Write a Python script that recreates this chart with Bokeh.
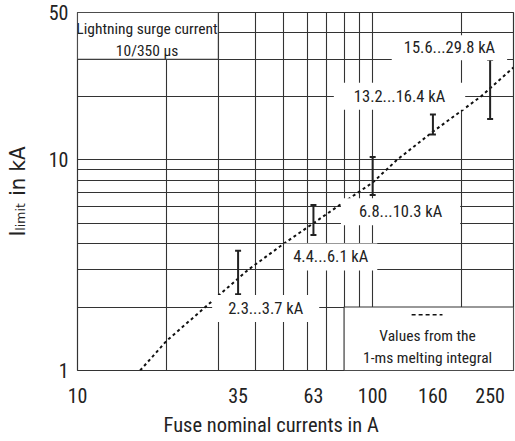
import numpy as np
from bokeh.plotting import figure
from bokeh.models import FixedTicker, Label, Range1d, Title
from bokeh.embed import file_html
from bokeh.resources import INLINE

FONT = "Roboto Condensed"
FONT_SUB = "DejaVu Sans Condensed"
INK = "#222222"
GRID = "#333333"

# ---- data ----
fuse_currents = [35, 63, 100, 160, 250]          # A
ilimit_low = [2.3, 4.4, 6.8, 13.2, 15.6]          # kA
ilimit_high = [3.7, 6.1, 10.3, 16.4, 29.8]        # kA
range_labels = ["2.3...3.7 kA", "4.4...6.1 kA", "6.8...10.3 kA",
                "13.2...16.4 kA", "15.6...29.8 kA"]
range_label_x = [43.4, 72.1, 124.3, 123.3, 182.0]
range_label_y = [1.97, 3.46, 5.67, 20.0, 34.0]
range_label_pad = [(16, 4), (9, 4), (18, 4), (20, 4), (12, 3)]

melt_x = [16.3, 20, 27.1, 37.8, 50, 63, 76, 100, 121, 160, 233, 300]
melt_y = [1.0, 1.38, 2.0, 3.0, 4.0, 5.0, 6.0, 7.8, 10.0, 13.6, 20.0, 27.4]

x_ticks = [10, 35, 63, 100, 160, 250]
y_ticks = [1, 10, 50]
x_grid = [20, 30, 40, 50, 60, 70, 80, 90, 100, 200]
y_grid = [2, 3, 4, 5, 6, 7, 8, 9, 10, 20, 30, 40]

p = figure(width=515, height=441, x_axis_type="log", y_axis_type="log",
           x_range=Range1d(10, 300), y_range=Range1d(1, 50),
           output_backend="svg", toolbar_location=None,
           min_border_left=77, min_border_right=2, min_border_top=12,
           min_border_bottom=69)
p.background_fill_color = "white"
p.border_fill_color = "white"
p.outline_line_color = GRID
p.outline_line_width = 1.2

p.xgrid.ticker = FixedTicker(ticks=x_grid)
p.ygrid.ticker = FixedTicker(ticks=y_grid)
for g in (p.xgrid, p.ygrid):
    g.grid_line_color = GRID
    g.grid_line_width = 1.1
    g.minor_grid_line_color = None

p.xaxis.ticker = FixedTicker(ticks=x_ticks)
p.yaxis.ticker = FixedTicker(ticks=y_ticks)
p.xaxis.major_label_overrides = {t: str(t) for t in x_ticks}
p.yaxis.major_label_overrides = {t: str(t) for t in y_ticks}
for ax in (p.xaxis, p.yaxis):
    ax.axis_line_color = None
    ax.major_tick_line_color = None
    ax.minor_tick_line_color = None
    ax.major_tick_out = 0
    ax.major_tick_in = 0
    ax.major_label_text_font = FONT
    ax.major_label_text_font_size = "20px"
    ax.major_label_text_color = INK
p.xaxis.major_label_standoff = 17
p.yaxis.major_label_standoff = 9

p.yaxis.axis_label = "I\u2097\u1d62\u2098\u1d62\u209c in kA"
p.yaxis.axis_label_text_font = FONT_SUB
p.yaxis.axis_label_text_font_size = "22px"
p.yaxis.axis_label_text_font_style = "normal"
p.yaxis.axis_label_text_color = INK
p.yaxis.axis_label_standoff = 16

p.add_layout(Title(text="Fuse nominal currents in A", align="left", offset=86,
                   text_font=FONT, text_font_size="20.5px", text_font_style="normal",
                   text_color=INK, standoff=10), "below")

# white boxes (title box top-left, legend box bottom-right)
p.quad(left=[10], right=[30], bottom=[30], top=[50],
       fill_color="white", line_color=GRID, line_width=1.1)
p.quad(left=[80], right=[300], bottom=[1], top=[2],
       fill_color="white", line_color=GRID, line_width=1.1)

# melting integral curve
p.line(melt_x, melt_y, line_dash="3 3", line_width=2, line_color="#111111")

# error bars (lightning surge current ranges)
p.segment(x0=fuse_currents, y0=ilimit_low, x1=fuse_currents, y1=ilimit_high,
          line_color=INK, line_width=2)
p.scatter(fuse_currents, ilimit_low, marker="dash", size=6, line_color=INK, line_width=2)
p.scatter(fuse_currents, ilimit_high, marker="dash", size=6, line_color=INK, line_width=2)

# range labels with white backgrounds
for t, lx, ly, pad in zip(range_labels, range_label_x, range_label_y, range_label_pad):
    p.add_layout(Label(x=lx, y=ly, text=t, text_align="center", text_baseline="middle",
                       text_font=FONT, text_font_size="16.5px", text_color=INK,
                       background_fill_color="white", padding=pad))

# title box text
p.add_layout(Label(x=17.2, y=41.6, text="Lightning surge current", text_align="center",
                   text_baseline="middle", text_font=FONT, text_font_size="15.5px", text_color=INK))
p.add_layout(Label(x=17.2, y=32.8, text="10/350 µs", text_align="center",
                   text_baseline="middle", text_font=FONT, text_font_size="15.5px", text_color=INK))

# legend
p.line([135.5, 172.4], [1.84, 1.84], line_dash="4 3", line_width=1.5, line_color="#111111")
p.add_layout(Label(x=153.5, y=1.455, text="Values from the", text_align="center",
                   text_baseline="middle", text_font=FONT, text_font_size="15.5px", text_color=INK))
p.add_layout(Label(x=153.5, y=1.15, text="1-ms melting integral", text_align="center",
                   text_baseline="middle", text_font=FONT, text_font_size="15.5px", text_color=INK))

open("out.html", "w").write(file_html(p, INLINE))
